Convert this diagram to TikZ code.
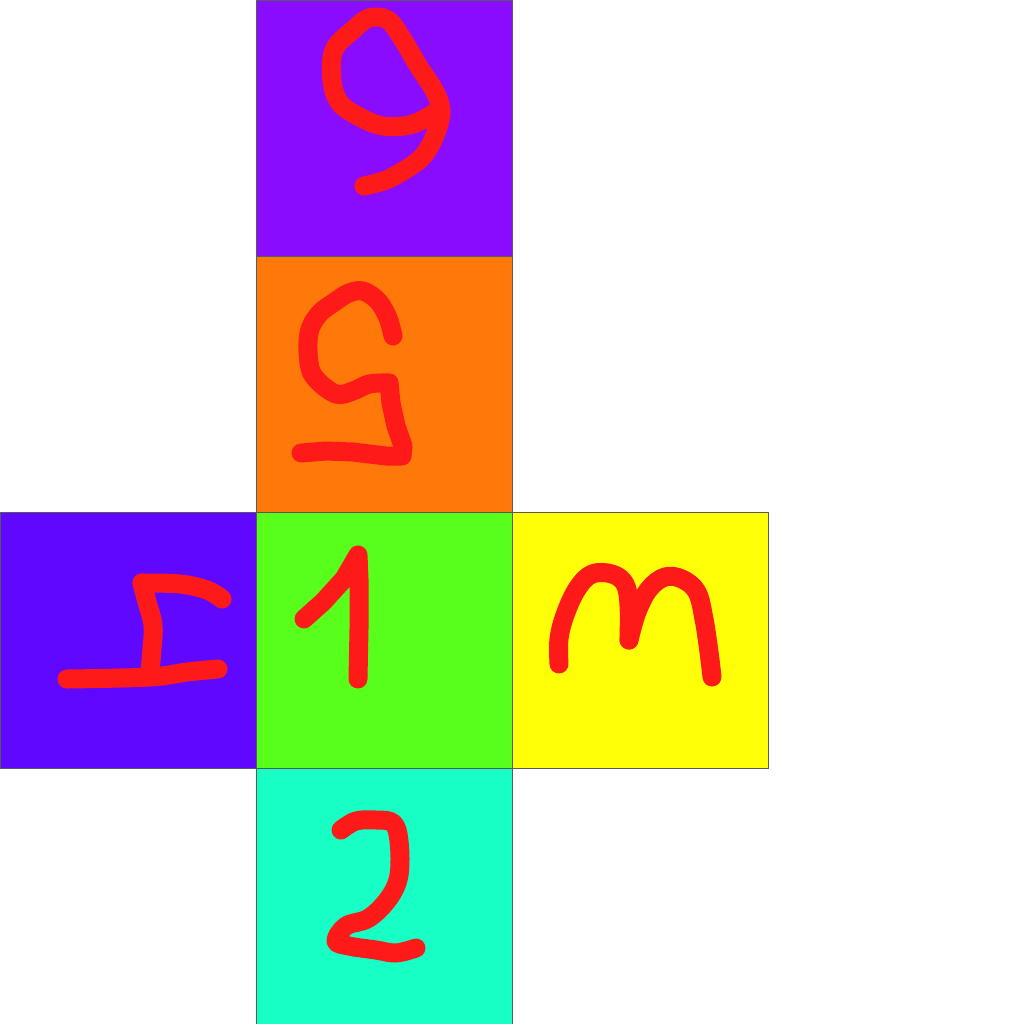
\documentclass[tikz,border=0pt]{standalone}
\definecolor{faceSix}{RGB}{138,12,255}
\definecolor{faceFive}{RGB}{255,120,10}
\definecolor{faceFour}{RGB}{96,8,255}
\definecolor{faceOne}{RGB}{87,255,26}
\definecolor{faceThree}{RGB}{255,255,8}
\definecolor{faceTwo}{RGB}{23,255,197}
\definecolor{penRed}{RGB}{255,26,26}
\begin{document}
\begin{tikzpicture}[x=0.5pt,y=0.5pt,yscale=-1,xscale=1,
  face/.style={draw={rgb,255:red,90;green,90;blue,90},line width=0.5pt},
  pen/.style={draw=penRed,line width=9.5pt,line cap=round,line join=round}]
\useasboundingbox (0,0) rectangle (1024,1024);
\fill[white] (0,0) rectangle (1024,1024);
% faces
\draw [face,fill=faceSix] (256,0) rectangle (512,256);
\draw [face,fill=faceFive] (256,256) rectangle (512,512);
\draw [face,fill=faceFour] (0,512) rectangle (256,768);
\draw [face,fill=faceOne] (256,512) rectangle (512,768);
\draw [face,fill=faceThree] (512,512) rectangle (768,768);
\draw [face,fill=faceTwo] (256,768) rectangle (512,1024);
% six
\draw [pen] plot[smooth,tension=0.6] coordinates {(364,186) (386,180) (408,168) (424,155) (436,133) (441,110) (434,90) (419,67) (403,40) (388,20) (369,18) (353,30) (334,50) (332,80) (339,102) (356,115) (383,126) (413,124) (439,110)};
% five
\draw [pen] plot[smooth,tension=0.6] coordinates {(393,336) (388,318) (378,301) (363,291) (349,293) (336,301) (319,314) (309,333) (309,363) (316,379) (336,394) (353,391) (369,384) (389,383)};
\draw [pen] (389,383) -- (391,403) -- (396,426) -- (403,446) -- (402,456) -- (386,456) -- (353,452) -- (326,451) -- (301,453);
% four
\draw [pen] plot[smooth,tension=0.6] coordinates {(222,599) (207,590) (180,584) (142,583)};
\draw [pen] plot[smooth,tension=0.6] coordinates {(142,583) (147,602) (153,625) (152,649) (150,672)};
\draw [pen] plot[smooth,tension=0.6] coordinates {(67,679) (150,677) (187,672) (218,669)};
% one
\draw [pen] (304,619) -- (323,602) -- (344,579) -- (358,555) -- (359,579) -- (359,629) -- (358,679);
% three
\draw [pen] plot[smooth,tension=0.6] coordinates {(559,664) (559,639) (565,615) (577,589) (592,574) (612,574) (625,584) (629,605) (629,640)};
\draw [pen] plot[smooth,tension=0.6] coordinates {(629,640) (637,612) (649,589) (665,577) (682,579) (697,592) (704,619) (709,652) (712,677)};
% two
\draw [pen] plot[smooth,tension=0.6] coordinates {(341,830) (356,821) (376,820) (393,823) (399,841) (399,875) (389,898) (369,918) (346,926) (336,941) (349,946) (376,950) (396,953) (416,948)};
\end{tikzpicture}
\end{document}
